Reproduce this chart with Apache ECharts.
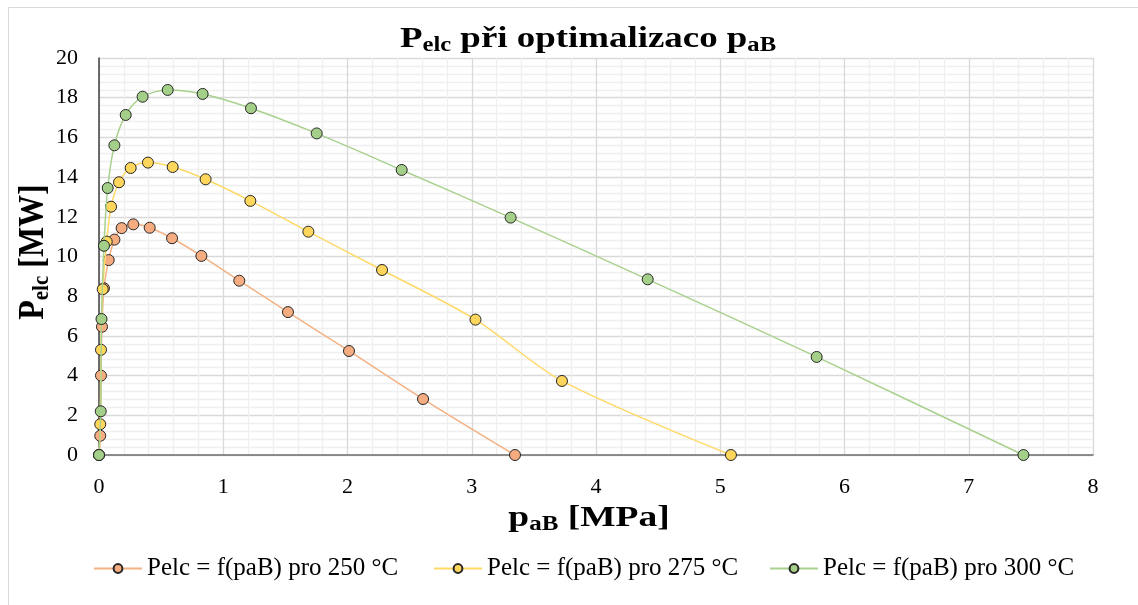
<!DOCTYPE html>
<html><head><meta charset="utf-8">
<script src="https://cdn.jsdelivr.net/npm/echarts@6/dist/echarts.min.js"></script>
<style>html,body{margin:0;padding:0;background:#fff}#c{width:1138px;height:605px}</style>
</head><body><div id="c"></div><script>
// Data
const seriesNames = ['Pelc = f(paB) pro 250 °C', 'Pelc = f(paB) pro 275 °C', 'Pelc = f(paB) pro 300 °C'];
const pressure250 = [0, 0.010, 0.016, 0.024, 0.040, 0.078, 0.124, 0.182, 0.276, 0.408, 0.588, 0.824, 1.129, 1.521, 2.012, 2.608, 3.348];
const power250    = [0, 0.97, 4.00, 6.46, 8.40, 9.82, 10.85, 11.43, 11.62, 11.45, 10.92, 10.03, 8.78, 7.20, 5.24, 2.82, 0];
const pressure275 = [0, 0.010, 0.016, 0.030, 0.062, 0.097, 0.161, 0.255, 0.394, 0.593, 0.858, 1.218, 1.685, 2.278, 3.030, 3.726, 5.086];
const power275    = [0, 1.55, 5.30, 8.35, 10.75, 12.51, 13.74, 14.46, 14.73, 14.51, 13.89, 12.80, 11.25, 9.32, 6.82, 3.73, 0];
const pressure300 = [0, 0.014, 0.020, 0.040, 0.070, 0.124, 0.215, 0.351, 0.553, 0.834, 1.223, 1.752, 2.436, 3.313, 4.416, 5.776, 7.440];
const power300    = [0, 2.20, 6.85, 10.54, 13.45, 15.60, 17.13, 18.05, 18.39, 18.19, 17.47, 16.20, 14.36, 11.96, 8.85, 4.94, 0];
const colors = ['#F4B183', '#FFD966', '#A9D18E'];
const markerColors = ['#F4AC80', '#FFD65C', '#A3CF88'];

const FONT = 'Liberation Serif';
function pairs(xs, ys) { return xs.map((x, i) => [x, ys[i]]); }
const dataSets = [pairs(pressure250, power250), pairs(pressure275, power275), pairs(pressure300, power300)];

const chart = echarts.init(document.getElementById('c'), null, {renderer: 'canvas'});
const series = dataSets.map((d, i) => ({
  name: seriesNames[i],
  type: 'line',
  data: d,
  smooth: 0.3,
  symbol: 'circle',
  symbolSize: 11,
  lineStyle: {color: colors[i], width: 1.5},
  itemStyle: {color: markerColors[i], borderColor: '#262626', borderWidth: 1},
  emphasis: {disabled: true},
  z: 2 + i
}));

const legendLefts = [88, 428, 764];
const legends = seriesNames.map((n, i) => ({
  data: [n],
  left: legendLefts[i],
  top: 551,
  itemWidth: 48,
  itemHeight: 11,
  textStyle: {fontFamily: FONT, fontSize: 25, color: '#000'},
  selectedMode: false
}));

const option = {
  animation: false,
  backgroundColor: '#fff',
  grid: {left: 99, right: 45, top: 58, bottom: 150},
  legend: legends,
  xAxis: {
    type: 'value', min: 0, max: 8, interval: 1,
    axisLine: {show: true, lineStyle: {color: '#6E6E6E', width: 1.5}},
    axisTick: {show: false},
    axisLabel: {fontFamily: FONT, fontSize: 22, color: '#000', margin: 21},
    splitLine: {show: true, lineStyle: {color: '#D9D9D9', width: 1.3}},
    minorTick: {show: false, splitNumber: 5},
    minorSplitLine: {show: true, lineStyle: {color: '#EFEFEF', width: 1.3}}
  },
  yAxis: {
    type: 'value', min: 0, max: 20, interval: 2,
    axisLine: {show: true, lineStyle: {color: '#404040', width: 1.5}},
    axisTick: {show: false},
    axisLabel: {fontFamily: FONT, fontSize: 22, color: '#000', margin: 21},
    splitLine: {show: true, lineStyle: {color: '#D9D9D9', width: 1.3}},
    minorTick: {show: false, splitNumber: 5},
    minorSplitLine: {show: true, lineStyle: {color: '#EFEFEF', width: 1.3}}
  },
  graphic: [
    {type: 'rect', shape: {x: 8.5, y: 7.5, width: 1160, height: 640}, style: {fill: null, stroke: '#D9D9D9', lineWidth: 1}, z: -10, silent: true},
    {type: 'text', x: 588, y: 39, scaleX: 1.23, z: 100,
      style: {text: '{b|P}{s|elc}{b| při optimalizaco p}{s|aB}', align: 'center', verticalAlign: 'middle',
        rich: {b: {fontFamily: FONT, fontSize: 30, fontWeight: 'bold', fill: '#000'},
               s: {fontFamily: FONT, fontSize: 20, fontWeight: 'bold', fill: '#000', padding: [14, 0, 0, 0]}}}},
    {type: 'text', x: 589, y: 518, scaleX: 1.25, z: 100,
      style: {text: '{b|p}{s|aB}{b| [MPa]}', align: 'center', verticalAlign: 'middle',
        rich: {b: {fontFamily: FONT, fontSize: 30, fontWeight: 'bold', fill: '#000'},
               s: {fontFamily: FONT, fontSize: 20, fontWeight: 'bold', fill: '#000', padding: [14, 0, 0, 0]}}}},
    {type: 'text', x: 34, y: 252, rotation: Math.PI / 2, scaleY: 1.1, z: 100,
      style: {text: '{b|P}{s|elc}{b| [MW]}', align: 'center', verticalAlign: 'middle',
        rich: {b: {fontFamily: FONT, fontSize: 32, fontWeight: 'bold', fill: '#000'},
               s: {fontFamily: FONT, fontSize: 21, fontWeight: 'bold', fill: '#000', padding: [14, 0, 0, 0]}}}}
  ],
  series: series
};
chart.setOption(option);
</script></body></html>
